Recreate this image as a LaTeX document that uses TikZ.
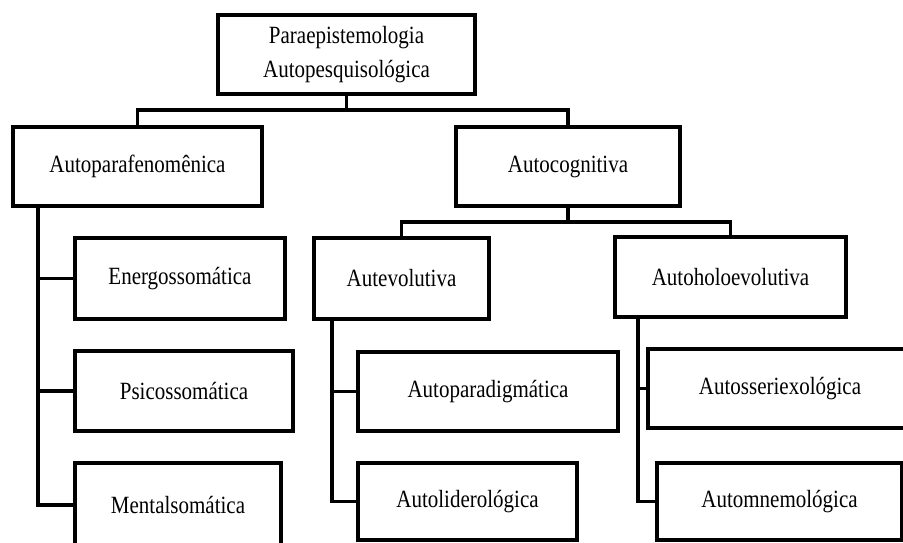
\documentclass[tikz,border=0pt]{standalone}
\usepackage{fontspec}
\setmainfont{Liberation Serif}
\newcommand\vstretch[1]{\scalebox{1}[1.18]{#1}}
\tikzset{
  box/.style={draw=black, line width=3.6pt, fill=white, inner sep=0pt, outer sep=0pt,
    align=center, font=\fontsize{21}{34}\selectfont},
  link/.style={draw=black, line width=3.6pt, line join=miter}
}
\begin{document}
\begin{tikzpicture}[x=1pt,y=-1pt]
\useasboundingbox (0,0) rectangle (903,542);
\clip (0,0) rectangle (903,542);
% boxes: centre, width, height
\node[box, minimum width=257, minimum height=79] (root) at (346.5,54.5)
  {\vstretch{Paraepistemologia}\\\vstretch{Autopesquisológica}};
\node[box, minimum width=249, minimum height=79] (a1) at (137.5,166.5) {\vstretch{Autoparafenomênica}};
\node[box, minimum width=224, minimum height=79] (a2) at (568,166.5) {\vstretch{Autocognitiva}};
\node[box, minimum width=210, minimum height=81] (en) at (180,278.5) {\vstretch{Energossomática}};
\node[box, minimum width=218, minimum height=80] (ps) at (184,391) {\vstretch{Psicossomática}};
\node[box, minimum width=206, minimum height=84] (me) at (178,505) {\vstretch{Mentalsomática}};
\node[box, minimum width=175, minimum height=81] (ev) at (401.5,278.5) {\vstretch{Autevolutiva}};
\node[box, minimum width=260, minimum height=79] (ap) at (488,391.5) {\vstretch{Autoparadigmática}};
\node[box, minimum width=219, minimum height=77] (al) at (467.5,501.5) {\vstretch{Autoliderológica}};
\node[box, minimum width=231, minimum height=80] (ho) at (730.5,277) {\vstretch{Autoholoevolutiva}};
\node[box, minimum width=264, minimum height=79] (se) at (780,388.5) {\vstretch{Autosseriexológica}};
\node[box, minimum width=245, minimum height=77] (mn) at (779.5,501.5) {\vstretch{Automnemológica}};
% junctions
\coordinate (j1) at (346.5,110);
\coordinate (j2) at (568,222);
\coordinate (t1) at ([xshift=25pt]a1.south west);
\coordinate (t2) at ([xshift=18pt]ev.south west);
\coordinate (t3) at ([xshift=23pt]ho.south west);
% connectors
\draw[link] (root.south) -- (j1);
\draw[link] (j1) -| (a1.north);
\draw[link] (j1) -| (a2.north);
\draw[link] (a2.south) -- (j2);
\draw[link] (j2) -| (ev.north);
\draw[link] (j2) -| (ho.north);
\draw[link] (t1) |- (me.west);
\draw[link] (t1) |- (en.west);
\draw[link] (t1) |- (ps.west);
\draw[link] (t2) |- (al.west);
\draw[link] (t2) |- (ap.west);
\draw[link] (t3) |- (mn.west);
\draw[link] (t3) |- (se.west);
\end{tikzpicture}
\end{document}
